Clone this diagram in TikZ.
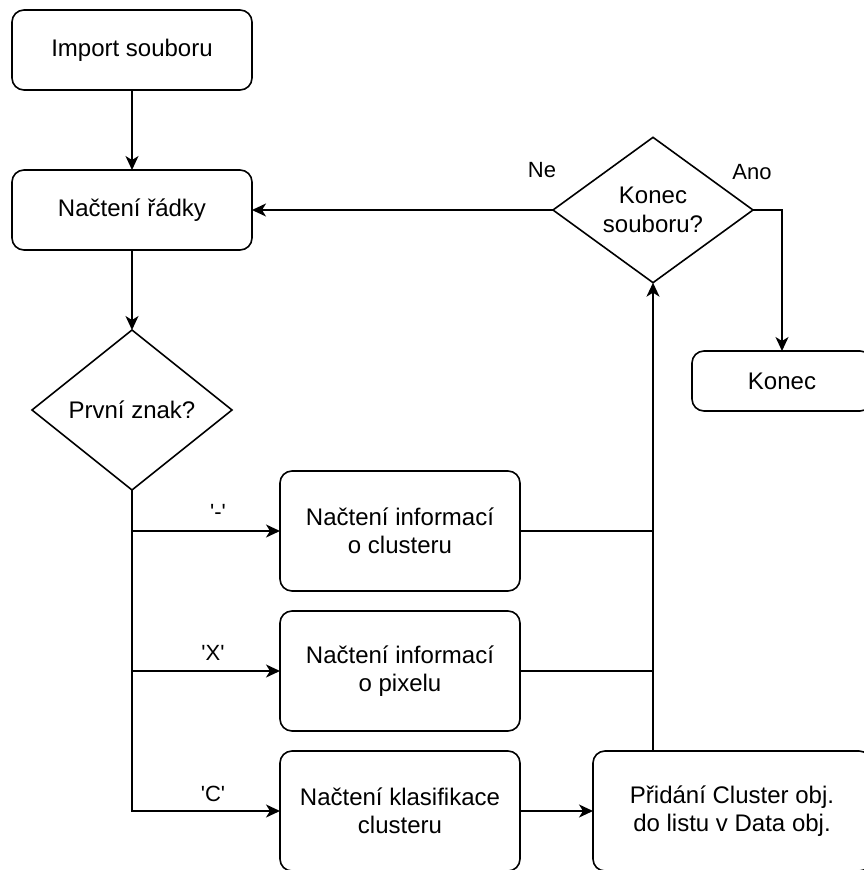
\documentclass[tikz,border=0pt]{standalone}
\usepackage{fontspec}
\setmainfont{Liberation Sans}
\newfontfamily\lblfont{Liberation Sans}[Ligatures=TeXOff]
\usetikzlibrary{shapes.geometric,arrows.meta}
\tikzset{
  procbox/.style={draw, line width=1.6pt, rounded corners=12pt, align=center, inner sep=0pt, outer sep=0pt, font=\fontsize{24}{28.5}\selectfont},
  decbox/.style={draw, line width=1.6pt, shape=diamond, align=center, inner sep=0pt, outer sep=0pt, font=\fontsize{24}{28.5}\selectfont},
  conn/.style={line width=1.6pt},
  arr/.style={conn, -{Stealth[length=14pt,width=13pt,inset=4pt]}},
  lbl/.style={font=\lblfont\fontsize{22}{26}\selectfont, inner sep=0pt}
}
\begin{document}
\begin{tikzpicture}[x=1pt,y=-1pt]
\useasboundingbox (0,0) rectangle (864,870);
\clip (0,0) rectangle (864,870);
\node[procbox, minimum width=240pt, minimum height=80pt] (imp) at (132,50) {Import souboru};
\node[procbox, minimum width=240pt, minimum height=80pt] (read) at (132,210) {Načtení řádky};
\node[decbox, minimum width=200pt, minimum height=160pt] (d1) at (132,410) {První znak?};
\node[decbox, minimum width=200pt, minimum height=140pt] (d2) at (653,210) {Konec\\souboru?};
\node[procbox, minimum width=180pt, minimum height=60pt] (konec) at (782,381) {Konec};
\node[procbox, minimum width=240pt, minimum height=120pt] (b1) at (400,531) {Načtení informací\\o clusteru};
\node[procbox, minimum width=240pt, minimum height=120pt] (b2) at (400,671) {Načtení informací\\o pixelu};
\node[procbox, minimum width=240pt, minimum height=120pt] (b3) at (400,811) {Načtení klasifikace\\clusteru};
\node[procbox, minimum width=278pt, minimum height=120pt] (b4) at (732,811) {Přidání Cluster obj.\\do listu v Data obj.};

\draw[arr] (imp.south) -- (read.north);
\draw[arr] (read.south) -- (d1.north);
\draw[arr] (d1.south) |- (b3.west);
\draw[arr] (d1.south |- b1.west) -- (b1.west);
\draw[arr] (d1.south |- b2.west) -- (b2.west);
\draw[arr] (b3.east) -- (b4.west);
\draw[arr] (d2.south |- b4.north) -- (d2.south);
\draw[conn] (b1.east) -- (d2.south |- b1.east);
\draw[conn] (b2.east) -- (d2.south |- b2.east);
\draw[arr] (d2.west) -- (read.east);
\draw[arr] (d2.east) -| (konec.north);

\node[lbl] (lminus) at (218,512) {'-'};
\node[lbl] (lx) at (213,653) {'X'};
\node[lbl] (lc) at (213,794) {'C'};
\node[lbl] (lne) at (542,170) {Ne};
\node[lbl] (lano) at (752,172) {Ano};
\end{tikzpicture}
\end{document}
